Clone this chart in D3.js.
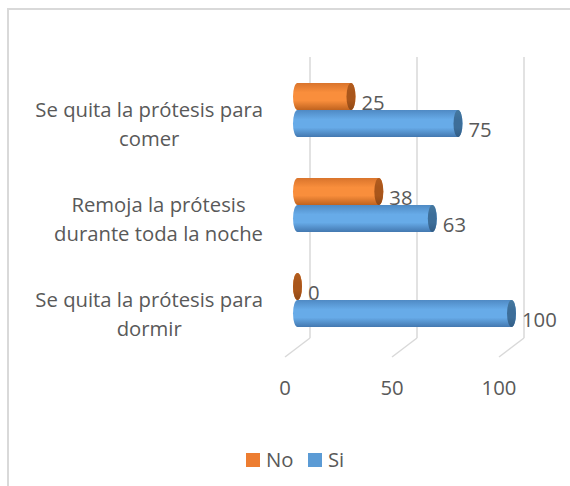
<!DOCTYPE html>
<html>
<head>
<meta charset="utf-8">
<script src="https://cdn.jsdelivr.net/npm/d3@7"></script>
<style>
  body { margin: 0; background: #fff; }
  svg text { font-family: "Open Sans", "Noto Sans", sans-serif; fill: #595959; }
</style>
</head>
<body>
<div id="chart"></div>
<script>
// chart data
var categories = [
  ["Se quita la prótesis para", "comer"],
  ["Remoja la prótesis", "durante toda la noche"],
  ["Se quita la prótesis para", "dormir"]
];
var seriesNames = ["No", "Si"];
var noValues = [25, 38, 0];
var siValues = [75, 63, 100];
var xTicks = [0, 50, 100];

var width = 570, height = 486;
var depth = { dx: 12.5, dy: 9.5 };   // half of the 3d floor depth
var floorY = 347.5;
var barH = 27, capRx = 4.5;
var fontSize = "20.3px";
var colors = { No: "#ed7d31", Si: "#5b9bd5" };

var svg = d3.select("#chart").append("svg")
    .attr("width", width)
    .attr("height", height);

var defs = svg.append("defs");
function bodyGrad(id, top, mid, bot) {
  var g = defs.append("linearGradient").attr("id", id)
      .attr("x1", 0).attr("y1", 0).attr("x2", 0).attr("y2", 1);
  g.append("stop").attr("offset", "0%").attr("stop-color", top);
  g.append("stop").attr("offset", "35%").attr("stop-color", mid);
  g.append("stop").attr("offset", "65%").attr("stop-color", mid);
  g.append("stop").attr("offset", "100%").attr("stop-color", bot);
}
bodyGrad("bodyNo", "#d9742c", "#f98e3c", "#c0631f");
bodyGrad("bodySi", "#4f8ac4", "#67abe8", "#4378b0");
bodyGrad("capNo", "#b35d1f", "#a9561b", "#8f4815");
bodyGrad("capSi", "#46799f", "#3d6e99", "#325d86");

// chart border (cut off on the right and bottom)
svg.append("rect")
    .attr("x", 8).attr("y", 9)
    .attr("width", 700).attr("height", 700)
    .attr("fill", "none")
    .attr("stroke", "#d9d9d9")
    .attr("stroke-width", 2);

var x = d3.scaleLinear().domain([0, 100]).range([297.5, 511.5]);
var y = d3.scalePoint().domain(d3.range(categories.length)).range([110, 300]);
var sub = d3.scaleBand().domain(seriesNames).range([-barH, barH]);

// back wall gridlines and floor lines
var grid = svg.append("g").attr("stroke", "#d9d9d9").attr("stroke-width", 1.5).attr("fill", "none");
grid.selectAll(".back")
    .data(xTicks)
    .enter().append("line")
    .attr("x1", function (d) { return x(d) + depth.dx; })
    .attr("x2", function (d) { return x(d) + depth.dx; })
    .attr("y1", 57)
    .attr("y2", floorY - depth.dy);
grid.selectAll(".floor")
    .data(xTicks)
    .enter().append("line")
    .attr("x1", function (d) { return x(d) + depth.dx; })
    .attr("x2", function (d) { return x(d) - depth.dx; })
    .attr("y1", floorY - depth.dy)
    .attr("y2", floorY + depth.dy);

// tick labels sit at the front of the floor
svg.selectAll(".tick")
    .data(xTicks)
    .enter().append("text")
    .attr("x", function (d) { return x(d) - depth.dx; })
    .attr("y", 388)
    .attr("dy", "0.35em")
    .attr("text-anchor", "middle")
    .style("font-size", fontSize)
    .text(function (d) { return d; });

// category labels
var labels = svg.selectAll(".cat")
    .data(categories)
    .enter().append("text")
    .attr("class", "cat")
    .style("font-size", fontSize)
    .attr("text-anchor", "middle");
labels.each(function (lines, i) {
  var t = d3.select(this);
  lines.forEach(function (line, j) {
    t.append("tspan").attr("y", y(i) + 14 + (j - 0.5) * 29).attr("dy", "0.35em").text(line);
  });
});
// right-align each label block, lines centred inside it
labels.each(function () {
  var t = d3.select(this);
  var w = d3.max(t.selectAll("tspan").nodes(), function (n) { return n.getComputedTextLength(); });
  t.selectAll("tspan").attr("x", 263 - w / 2);
});

// bars as cylinders
var bars = [];
categories.forEach(function (c, i) {
  bars.push({ cat: i, key: "No", value: noValues[i] });
  bars.push({ cat: i, key: "Si", value: siValues[i] });
});

var barG = svg.selectAll(".bar")
    .data(bars)
    .enter().append("g")
    .attr("class", "bar");
barG.append("path")
    .attr("fill", function (d) { return "url(#body" + d.key + ")"; })
    .attr("d", function (d) {
      var x0 = x(0), x1 = x(d.value);
      var yt = y(d.cat) + sub(d.key), yb = yt + barH, ry = barH / 2;
      return "M" + x0 + "," + yt + "L" + x1 + "," + yt +
        "A" + capRx + "," + ry + " 0 0 1 " + x1 + "," + yb +
        "L" + x0 + "," + yb +
        "A" + capRx + "," + ry + " 0 0 1 " + x0 + "," + yt + "Z";
    });
barG.append("ellipse")
    .attr("cx", function (d) { return x(d.value); })
    .attr("cy", function (d) { return y(d.cat) + sub(d.key) + barH / 2; })
    .attr("rx", capRx)
    .attr("ry", barH / 2)
    .attr("fill", function (d) { return "url(#cap" + d.key + ")"; });
barG.append("text")
    .attr("x", function (d) { return x(d.value) + capRx + 6; })
    .attr("y", function (d) { return y(d.cat) + sub(d.key) + barH / 2 + 6; })
    .attr("dy", "0.35em")
    .style("font-size", fontSize)
    .text(function (d) { return d.value; });

// legend
var legend = svg.append("g").attr("transform", "translate(246,453)");
var item = legend.selectAll("g")
    .data(seriesNames)
    .enter().append("g")
    .attr("transform", function (d, i) { return "translate(" + (i * 62) + ",0)"; });
item.append("rect")
    .attr("width", 14).attr("height", 14)
    .attr("fill", function (d) { return colors[d]; });
item.append("text")
    .attr("x", 20).attr("y", 7)
    .attr("dy", "0.35em")
    .style("font-size", fontSize)
    .text(function (d) { return d; });
</script>
</body>
</html>
